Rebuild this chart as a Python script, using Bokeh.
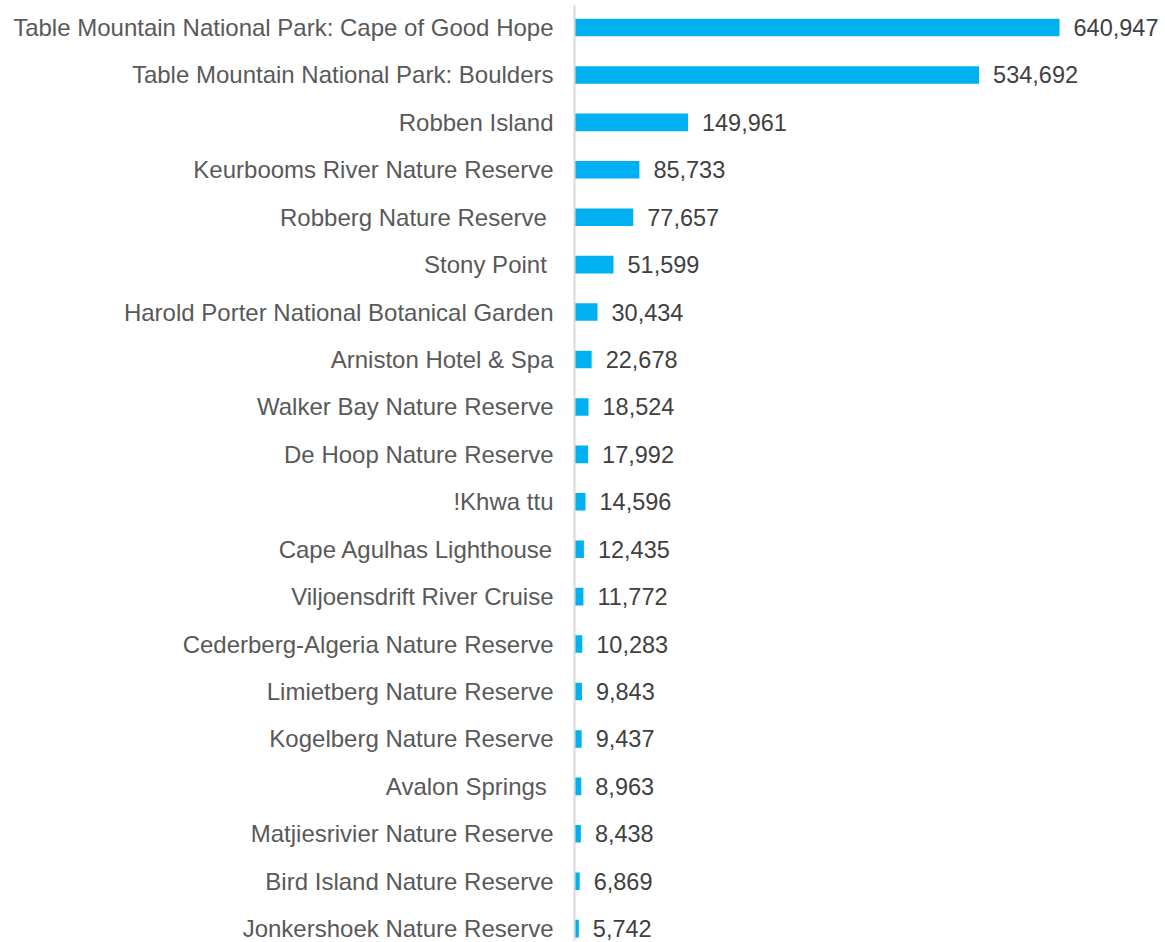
from bokeh.plotting import figure
from bokeh.models import Range1d, FixedTicker, ColumnDataSource
from bokeh.embed import file_html
from bokeh.resources import INLINE
from bokeh.core.properties import value

categories = [
    "Table Mountain National Park: Cape of Good Hope",
    "Table Mountain National Park: Boulders",
    "Robben Island",
    "Keurbooms River Nature Reserve",
    "Robberg Nature Reserve ",
    "Stony Point ",
    "Harold Porter National Botanical Garden",
    "Arniston Hotel & Spa",
    "Walker Bay Nature Reserve",
    "De Hoop Nature Reserve",
    "!Khwa ttu",
    "Cape Agulhas Lighthouse",
    "Viljoensdrift River Cruise",
    "Cederberg-Algeria Nature Reserve",
    "Limietberg Nature Reserve",
    "Kogelberg Nature Reserve",
    "Avalon Springs ",
    "Matjiesrivier Nature Reserve",
    "Bird Island Nature Reserve",
    "Jonkershoek Nature Reserve",
]
visitors = [640947, 534692, 149961, 85733, 77657, 51599, 30434, 22678, 18524,
            17992, 14596, 12435, 11772, 10283, 9843, 9437, 8963, 8438, 6869, 5742]

pos = list(range(len(categories)))
labels = [f"{v:,}" for v in visitors]
src = ColumnDataSource(dict(y=pos, v=visitors, lab=labels))

p = figure(width=1165, height=942, output_backend="svg", toolbar_location=None,
           x_range=Range1d(0, 781000), y_range=Range1d(19.25, -0.464),
           x_axis_location=None,
           min_border_left=574, min_border_right=0, min_border_top=5, min_border_bottom=2)
p.outline_line_color = None
p.grid.visible = False
p.background_fill_color = "white"

p.hbar(y="y", left=0, right="v", height=0.37, source=src,
       fill_color="#00B0F0", line_color=None)

p.text(x="v", y="y", text="lab", source=src, x_offset=14,
       text_font=value("Liberation Sans"), text_font_size="23.5px",
       text_color="#404040", text_align="left", text_baseline="middle")

ax = p.yaxis[0]
ax.ticker = FixedTicker(ticks=pos)
ax.major_label_overrides = {i: c for i, c in zip(pos, categories)}
ax.major_tick_line_color = None
ax.minor_tick_line_color = None
ax.axis_line_color = "#D9D9D9"
ax.axis_line_width = 2
ax.major_label_standoff = 15
ax.major_label_text_font = "Liberation Sans"
ax.major_label_text_font_size = "24px"
ax.major_label_text_color = "#595959"

open("out.html", "w").write(file_html(p, INLINE))
